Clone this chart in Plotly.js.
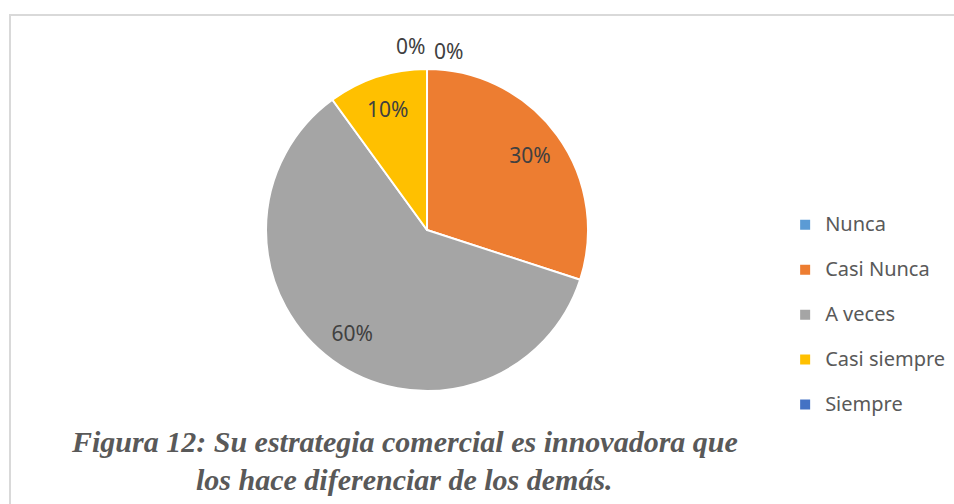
<!DOCTYPE html>
<html>
<head>
<meta charset="utf-8">
<script src="https://cdn.plot.ly/plotly-3.0.1.min.js"></script>
<style>
  html, body { margin: 0; padding: 0; background: #ffffff; }
  #chart { width: 954px; height: 504px; }
</style>
</head>
<body>
<div id="chart"></div>
<script>
const categories = ["Nunca", "Casi Nunca", "A veces", "Casi siempre", "Siempre"];
const values = [0, 30, 60, 10, 0];
const sliceColors = ["#5B9BD5", "#ED7D31", "#A5A5A5", "#FFC000", "#4472C4"];
const captionLines = [
  "Figura 12: Su estrategia comercial es innovadora que",
  "los hace diferenciar de los demás."
];

const total = values.reduce((a, b) => a + b, 0);
const legendLabels = categories.map(c => '<span style="font-size:20px">' + c + '</span><br> ');
const pieDomain = { x: [0.2788, 0.6164], y: [0.2242, 0.8631] };
const labelFont = { family: "Noto Sans, sans-serif", size: 21, color: "#404040" };

// slices
const slices = {
  type: "pie",
  labels: legendLabels,
  values: values,
  sort: false,
  direction: "clockwise",
  rotation: 0,
  marker: { colors: sliceColors, line: { color: "#ffffff", width: 2 } },
  textinfo: "none",
  hoverinfo: "label+percent",
  domain: pieDomain,
  automargin: false
};

// percentage labels (transparent ring on top of the slices, same data)
const sliceLabels = {
  type: "pie",
  labels: legendLabels,
  values: values,
  sort: false,
  direction: "clockwise",
  rotation: 0,
  hole: 0.58,
  showlegend: false,
  marker: { colors: values.map(() => "rgba(0,0,0,0)"), line: { width: 0 } },
  texttemplate: "%{percent:.0%}",
  textposition: values.map(v => v === 0 ? "none" : "inside"),
  insidetextorientation: "horizontal",
  textfont: labelFont,
  hoverinfo: "skip",
  domain: pieDomain,
  automargin: false
};

// zero-value slices get their labels above the pie
const zeroIdx = values.map((v, i) => v === 0 ? i : -1).filter(i => i >= 0);
const zeroPos = [[410, 46], [448, 51]];
const zeroAnn = zeroIdx.map((idx, k) => ({
  text: Math.round(100 * values[idx] / total) + "%",
  xref: "paper", yref: "paper",
  x: zeroPos[k][0] / 954, y: 1 - zeroPos[k][1] / 504,
  xanchor: "center", yanchor: "middle",
  showarrow: false,
  font: labelFont
}));

const captionAnn = captionLines.map((t, i) => ({
  text: "<b><i>" + t + "</i></b>",
  xref: "paper", yref: "paper",
  x: 404 / 954, y: 1 - (441 + i * 38) / 504,
  xanchor: "center", yanchor: "middle",
  showarrow: false,
  font: { family: "Liberation Serif, serif", size: 30, color: "#595959" }
}));

const layout = {
  width: 954,
  height: 504,
  margin: { l: 0, r: 0, t: 0, b: 0 },
  paper_bgcolor: "#ffffff",
  showlegend: true,
  legend: {
    x: 0.823, xanchor: "left",
    y: 0.588, yanchor: "top",
    valign: "top",
    font: { family: "Noto Sans, sans-serif", size: 16.15, color: "#595959" },
    bgcolor: "rgba(0,0,0,0)"
  },
  shapes: [{
    type: "rect", xref: "paper", yref: "paper",
    x0: 10 / 954, x1: 1.01, y0: -0.02, y1: 1 - 15 / 504,
    line: { color: "#D9D9D9", width: 2 }, fillcolor: "rgba(0,0,0,0)"
  }],
  annotations: zeroAnn.concat(captionAnn)
};

Plotly.newPlot("chart", [slices, sliceLabels], layout, { displayModeBar: false, staticPlot: true });
</script>
</body>
</html>
